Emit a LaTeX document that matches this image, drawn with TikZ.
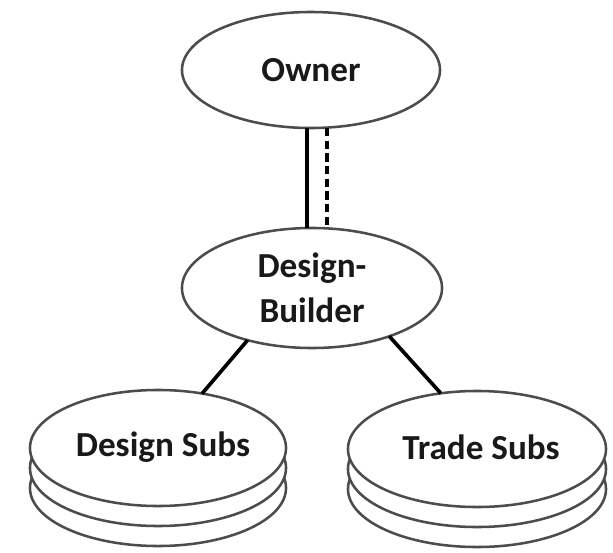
\documentclass[tikz,border=0pt]{standalone}
\usepackage{fontspec}
\setmainfont{Carlito}
\usetikzlibrary{shapes.geometric,calc}

\tikzset{
  party/.style={ellipse, draw=black!70, line width=1.8pt, fill=white,
    inner sep=0pt, outer sep=0pt, text=black!90,
    font=\fontsize{25}{32}\selectfont\bfseries, align=center},
  link/.style={black, line width=2.6pt},
  contract/.style={black, line width=2.6pt, dash pattern=on 6pt off 3pt}
}

\begin{document}
\begin{tikzpicture}[x=0.025cm, y=-0.025cm]
\useasboundingbox (0,0) rectangle (613,553);
% owner and design-builder
\node[party, minimum width=6.45cm, minimum height=2.9cm] (owner) at (311,70) {Owner};
\node[party, minimum width=6.5cm, minimum height=3.0cm] (db) at (312,288) {Design-\\Builder};
% stacked subs (lowest copy first)
\node[party, minimum width=6.4cm, minimum height=2.9cm] (dsubsC) at (158,488) {};
\node[party, minimum width=6.4cm, minimum height=2.9cm] (dsubsB) at (158,468) {};
\node[party, minimum width=6.4cm, minimum height=2.9cm] (dsubs) at (158,448) {};
\node at (163,447) [font=\fontsize{25}{32}\selectfont\bfseries, text=black!90] (dsubsT) {Design Subs};
\node[party, minimum width=6.45cm, minimum height=2.9cm] (tsubsC) at (477,489) {};
\node[party, minimum width=6.45cm, minimum height=2.9cm] (tsubsB) at (477,469) {};
\node[party, minimum width=6.45cm, minimum height=2.9cm] (tsubs) at (477,449) {};
\node at (481,447) [font=\fontsize{25}{32}\selectfont\bfseries, text=black!90] (tsubsT) {Trade Subs};
% connectors
\draw[link] ($(owner.south)+(-4,0)$) -- ($(db.north)+(-5,0)$);
\draw[contract] ($(owner.south)+(16,0)$) -- ($(db.north)+(15,0)$);
\draw[link] (db.219) -- (dsubs.51);
\draw[link] (db.328) -- (tsubs.123);
\end{tikzpicture}
\end{document}
